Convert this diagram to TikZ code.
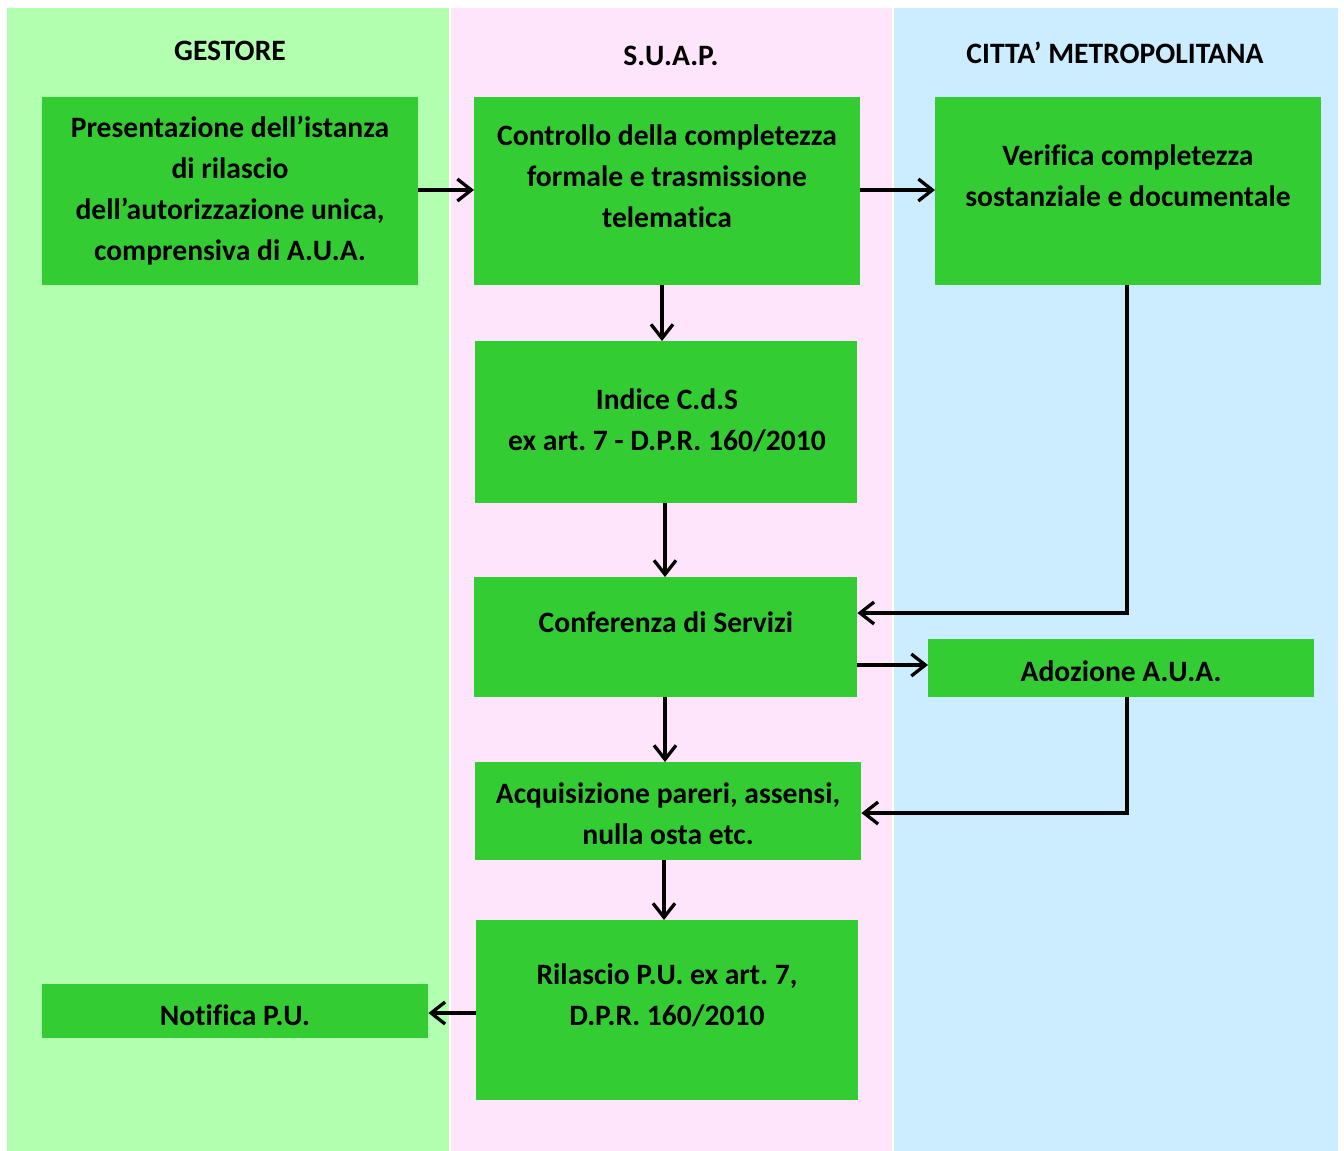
\documentclass[tikz,border=0pt]{standalone}
\usepackage{fontspec}
\setmainfont{Carlito}[Ligatures=NoCommon]
\usetikzlibrary{arrows.meta}
\definecolor{laneG}{HTML}{B3FFB0}
\definecolor{laneP}{HTML}{FFE5FB}
\definecolor{laneB}{HTML}{CCECFF}
\definecolor{boxG}{HTML}{33CC33}
\tikzset{
  box/.style={fill=boxG, draw=none, inner sep=0pt, anchor=north west},
  lbl/.style={align=center, font=\fontsize{29.6}{41}\selectfont\bfseries, inner sep=0pt, text=black},
  hdr/.style={font=\fontsize{29.6}{34}\selectfont\bfseries, inner sep=0pt},
  arr/.style={line width=3.3pt, -{Straight Barb[length=14pt,width=22pt,line width=3.3pt]}},
}
\newcommand{\bx}[5]{\node[box, minimum width=#4pt, minimum height=#5pt] (#1) at (#2,#3) {};}
\begin{document}
\frenchspacing
\begin{tikzpicture}[x=1pt,y=-1pt]
\useasboundingbox (0,0) rectangle (1344,1151);
\fill[white] (0,0) rectangle (1344,1151);
\fill[laneG] (7,8) rectangle (449,1151);
\fill[laneP] (451,8) rectangle (892,1151);
\fill[laneB] (894,8) rectangle (1338,1151);
\node[hdr] (h1) at (230,51) {GESTORE};
\node[hdr] (h2) at (671,56) {S.U.A.P.};
\node[hdr] (h3) at (1115,53) {CITTA’ METROPOLITANA};
\bx{b1}{42}{97}{376}{188}
\bx{b2}{474}{97}{386}{188}
\bx{b3}{935}{97}{386}{188}
\bx{b4}{475}{341}{382}{162}
\bx{b5}{474}{577}{383}{120}
\bx{b6}{928}{639}{386}{58}
\bx{b7}{475}{762}{386}{98}
\bx{b8}{476}{920}{382}{180}
\bx{b9}{42}{984}{386}{54}
\node[lbl] (t1) at (230,191) {Presentazione dell’istanza\\di rilascio\\dell’autorizzazione unica,\\comprensiva di A.U.A.};
\node[lbl] (t2) at (667,176) {Controllo della completezza\\formale e trasmissione\\telematica};
\node[lbl] (t3) at (1128,176) {Verifica completezza\\sostanziale e documentale};
\node[lbl] (t4) at (667,420) {Indice C.d.S\\ex art. 7 - D.P.R. 160/2010};
\node[lbl] (t5) at (666,622) {Conferenza di Servizi};
\node[lbl] (t6) at (1121,671) {Adozione A.U.A.};
\node[lbl] (t7) at (668,814) {Acquisizione pareri, assensi,\\nulla osta etc.};
\node[lbl] (t8) at (667,995) {Rilascio P.U. ex art. 7,\\D.P.R. 160/2010};
\node[lbl] (t9) at (235,1015) {Notifica P.U.};
\draw[arr] (b1.east |- 0,190) -- (b2.west |- 0,190);
\draw[arr] (b2.east |- 0,190) -- (b3.west |- 0,190);
\draw[arr] (b2.south -| 662,0) -- (b4.north -| 662,0);
\draw[arr] (b4.south -| 665,0) -- (b5.north -| 665,0);
\draw[arr] (b3.south -| 1127,0) -- (1127,613) -- (b5.east |- 0,613);
\draw[arr] (b5.east |- 0,665) -- (b6.west |- 0,665);
\draw[arr] (b5.south -| 665,0) -- (b7.north -| 665,0);
\draw[arr] (b6.south -| 1127,0) -- (1127,813) -- (b7.east |- 0,813);
\draw[arr] (b7.south -| 664,0) -- (b8.north -| 664,0);
\draw[arr] (b8.west |- 0,1013) -- (b9.east |- 0,1013);
\end{tikzpicture}
\end{document}
